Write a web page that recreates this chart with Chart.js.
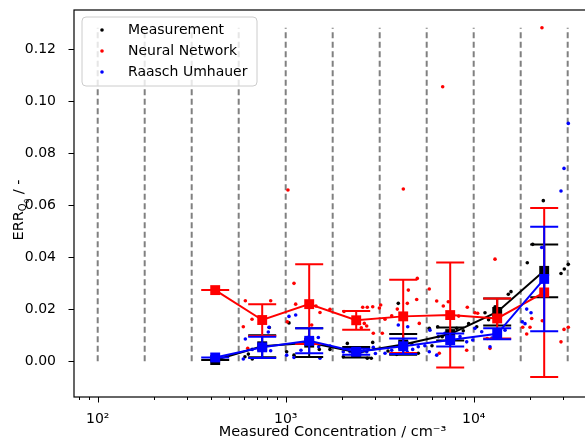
<!DOCTYPE html>
<html><head><meta charset="utf-8">
<script src="https://cdn.jsdelivr.net/npm/chart.js@4/dist/chart.umd.min.js"></script>
<style>
html,body{margin:0;padding:0;overflow:hidden;background:#fff;width:585px;height:440px}
#wrap{width:600px;height:440px;position:relative}
</style>
</head><body><div id="wrap"><canvas id="c" width="600" height="440"></canvas></div>
<script>
// ---- data ----
const binEdges = [100, 177.8, 316.2, 562.3, 1000, 1778, 3162, 5623, 10000, 17783, 31623];
const binCenters = [421.7, 749.9, 1333.5, 2371.4, 4217, 7499, 13335, 23714];

const measMean = [0.0005, 0.0058, 0.0072, 0.0035, 0.0065, 0.0105, 0.019, 0.0348];
const measErr  = [0, 0.0042, 0.0055, 0.002, 0.004, 0.0025, 0.0052, 0.0101];
const nnMean   = [0.0274, 0.0159, 0.022, 0.0158, 0.0173, 0.0178, 0.0165, 0.0265];
const nnErr    = [0, 0.0061, 0.0153, 0.0036, 0.0141, 0.0202, 0.0077, 0.0325];
const ruMean   = [0.0015, 0.0054, 0.0079, 0.0037, 0.0058, 0.0082, 0.0106, 0.0317];
const ruErr    = [0, 0.0041, 0.0048, 0.0012, 0.003, 0.0025, 0.0021, 0.0201];

const measX = [410, 818, 607, 664, 633, 1303, 1363, 1509, 1720, 1107, 1041, 1012, 2127, 2903, 2025, 2716, 2853, 2400, 2600, 3971, 3894, 5074, 4700, 4400, 3500, 5804, 6434, 8121, 7325, 6800, 8800, 9400, 7800, 6000, 15280, 15790, 11485, 10375, 13000, 12000, 19280, 29130, 30340, 31860, 23460, 20600];
const measY = [0.0005, 0.013, 0.0018, 0.0009, 0.0028, 0.0092, 0.0082, 0.0046, 0.0046, 0.0024, 0.0148, 0.0037, 0.0069, 0.0073, 0.0018, 0.0012, 0.0012, 0.0025, 0.004, 0.0223, 0.0027, 0.0031, 0.0065, 0.0075, 0.004, 0.0127, 0.0133, 0.0127, 0.0108, 0.0095, 0.0118, 0.0145, 0.0085, 0.006, 0.0258, 0.0268, 0.0187, 0.0133, 0.021, 0.016, 0.0379, 0.0338, 0.0355, 0.0373, 0.0618, 0.045];

const nnX = [410, 610, 832, 662, 595, 628, 1107, 1130, 1449, 1522, 1720, 1020, 1375, 1028, 2042, 2568, 2716, 2903, 2619, 2697, 2524, 2924, 3150, 3202, 4436, 5012, 4490, 4975, 3923, 5135, 3265, 3663, 3375, 4224, 5804, 6356, 6891, 7325, 9247, 8322, 6561, 9178, 6840, 10160, 10500, 12983, 12210, 11800, 20350, 19930, 18230, 19140, 23170, 30230, 31860, 29130, 23070];
const nnY = [0.027, 0.0233, 0.0233, 0.0162, 0.0133, 0.005, 0.030, 0.022, 0.0213, 0.0188, 0.020, 0.0152, 0.014, 0.0659, 0.0192, 0.0208, 0.0208, 0.021, 0.0146, 0.0136, 0.0129, 0.0108, 0.0205, 0.0217, 0.0223, 0.0319, 0.0274, 0.0238, 0.0201, 0.0146, 0.0108, 0.0175, 0.0162, 0.0663, 0.0278, 0.0232, 0.0213, 0.0229, 0.0208, 0.0174, 0.0031, 0.0043, 0.1056, 0.0187, 0.0185, 0.0393, 0.005, 0.0088, 0.0165, 0.0131, 0.0131, 0.0105, 0.0156, 0.0123, 0.0131, 0.0075, 0.1283];

const ruX = [410, 610, 815, 808, 595, 832, 664, 1041, 1130, 1491, 1012, 1720, 1206, 1498, 1107, 1522, 2025, 2198, 2537, 2697, 2924, 2400, 3000, 3971, 4457, 3663, 4436, 4737, 5074, 3375, 5500, 5854, 6481, 7036, 8456, 9879, 6356, 5804, 9178, 10160, 11030, 12210, 14675, 12500, 31860, 30230, 29130, 23000, 19140, 20180, 18140, 18750];
const ruY = [0.0015, 0.0086, 0.0131, 0.0113, 0.0009, 0.0041, 0.0046, 0.0173, 0.0178, 0.0092, 0.0024, 0.0059, 0.0043, 0.0056, 0.0015, 0.0012, 0.0037, 0.0037, 0.0037, 0.0037, 0.0054, 0.0028, 0.003, 0.014, 0.0133, 0.0043, 0.0036, 0.0046, 0.0056, 0.0031, 0.006, 0.012, 0.0095, 0.0108, 0.0095, 0.0082, 0.0024, 0.0037, 0.0075, 0.0127, 0.0114, 0.0056, 0.012, 0.009, 0.0915, 0.0742, 0.0655, 0.0438, 0.0201, 0.0187, 0.0152, 0.0145];

const yTicks = [0, 0.02, 0.04, 0.06, 0.08, 0.10, 0.12];
const xMajor = [100, 1000, 10000];
const xMinor = [80, 90, 200, 300, 400, 500, 600, 700, 800, 900, 2000, 3000, 4000, 5000, 6000, 7000, 8000, 9000, 20000, 30000, 40000];
const xTickLabels = {100: '10\u00B2', 1000: '10\u00B3', 10000: '10\u2074'};
const seriesNames = ['Measurement', 'Neural Network', 'Raasch Umhauer'];
const seriesColors = ['#000000', '#ff0000', '#0000ff'];

// ---- build ----
const pts = (xs, ys) => xs.map((x, i) => ({x: x, y: ys[i]}));
const vTop = Math.max(...measY, ...nnY, ...ruY);
const vlineData = [];
binEdges.forEach(e => { vlineData.push({x: e, y: 0}, {x: e, y: vTop}, {x: e, y: null}); });

const FONT = "'DejaVu Sans', sans-serif";
Chart.defaults.font.family = FONT;
Chart.defaults.font.size = 14;
Chart.defaults.color = '#000';

const errPlugin = {
  id: 'errbars',
  beforeDatasetDraw(chart, args) {
    const ds = chart.data.datasets[args.index];
    if (!ds.errors) return;
    const ctx = chart.ctx, xs = chart.scales.x, ys = chart.scales.y;
    ctx.save();
    ctx.strokeStyle = ds.borderColor;
    ctx.lineWidth = 2;
    ds.data.forEach((p, i) => {
      const e = ds.errors[i];
      const px = xs.getPixelForValue(p.x);
      const yHi = ys.getPixelForValue(p.y + e), yLo = ys.getPixelForValue(p.y - e);
      ctx.beginPath();
      ctx.moveTo(px, yLo); ctx.lineTo(px, yHi);
      ctx.moveTo(px - 14, yLo); ctx.lineTo(px + 14, yLo);
      ctx.moveTo(px - 14, yHi); ctx.lineTo(px + 14, yHi);
      ctx.stroke();
    });
    ctx.restore();
  }
};

const framePlugin = {
  id: 'frame',
  afterDraw(chart) {
    const ctx = chart.ctx, a = chart.chartArea, xs = chart.scales.x, ys = chart.scales.y;
    ctx.save();
    ctx.strokeStyle = '#000'; ctx.lineWidth = 1.2;
    ctx.strokeRect(a.left, a.top, a.right - a.left, a.bottom - a.top);
    ctx.lineWidth = 1;
    ctx.beginPath();
    xMajor.forEach(v => { const p = Math.round(xs.getPixelForValue(v)) + 0.5; ctx.moveTo(p, a.bottom); ctx.lineTo(p, a.bottom + 5.5); });
    xMinor.forEach(v => { const p = Math.round(xs.getPixelForValue(v)) + 0.5; ctx.moveTo(p, a.bottom); ctx.lineTo(p, a.bottom + 3); });
    yTicks.forEach(v => { const p = Math.round(ys.getPixelForValue(v)) + 0.5; ctx.moveTo(a.left, p); ctx.lineTo(a.left - 5.5, p); });
    ctx.stroke();

    // legend
    const lx = a.left + 8, ly = a.top + 7, lw = 175, lh = 69;
    ctx.beginPath();
    if (ctx.roundRect) ctx.roundRect(lx, ly, lw, lh, 4); else ctx.rect(lx, ly, lw, lh);
    ctx.fillStyle = 'rgba(255,255,255,0.8)';
    ctx.fill();
    ctx.strokeStyle = '#cccccc'; ctx.lineWidth = 1;
    ctx.stroke();
    ctx.font = '14px ' + FONT;
    ctx.textBaseline = 'middle';
    ctx.textAlign = 'left';
    seriesNames.forEach((n, i) => {
      const cy = ly + 13 + i * 21;
      ctx.fillStyle = seriesColors[i];
      ctx.beginPath(); ctx.arc(lx + 20, cy, 1.8, 0, Math.PI * 2); ctx.fill();
      ctx.fillStyle = '#000';
      ctx.fillText(n, lx + 46, cy);
    });

    // y axis title with subscript
    ctx.save();
    ctx.translate(23, 210);
    ctx.rotate(-Math.PI / 2);
    const parts = [['ERR', 14.5, 0], ['Q', 10, 3], ['0', 7, 6], [' / -', 14.5, 0]];
    let tw = 0;
    parts.forEach(p => { ctx.font = p[1] + 'px ' + FONT; tw += ctx.measureText(p[0]).width; });
    let cx = -tw / 2;
    ctx.textBaseline = 'alphabetic';
    ctx.fillStyle = '#000';
    parts.forEach(p => { ctx.font = p[1] + 'px ' + FONT; ctx.fillText(p[0], cx, p[2]); cx += ctx.measureText(p[0]).width; });
    ctx.restore();
    ctx.restore();
  }
};

const scatterDs = (label, xs, ys, color, order) => ({
  type: 'scatter', label, data: pts(xs, ys), order,
  backgroundColor: color, borderWidth: 0, pointRadius: 1.8, pointHoverRadius: 1.8, showLine: false
});
const meanDs = (label, mean, err, color, order) => ({
  type: 'line', label, data: binCenters.map((x, i) => ({x, y: mean[i]})), errors: err, order,
  borderColor: color, borderWidth: 2, backgroundColor: color,
  pointStyle: 'rect', pointRadius: 7, pointHoverRadius: 7, pointBorderWidth: 0,
  pointBackgroundColor: color, tension: 0, fill: false
});

new Chart(document.getElementById('c'), {
  data: {
    datasets: [
      {type: 'line', label: 'bins', data: vlineData, order: 10, borderColor: '#808080', borderWidth: 2,
       borderDash: [6, 3.5], pointRadius: 0, spanGaps: false, fill: false},
      scatterDs(seriesNames[0], measX, measY, seriesColors[0], 7),
      scatterDs(seriesNames[1], nnX, nnY, seriesColors[1], 6),
      scatterDs(seriesNames[2], ruX, ruY, seriesColors[2], 5),
      meanDs(seriesNames[0] + ' mean', measMean, measErr, '#000000', 2),
      meanDs(seriesNames[1] + ' mean', nnMean, nnErr, '#ff0000', 1),
      meanDs(seriesNames[2] + ' mean', ruMean, ruErr, '#0000ff', 0)
    ]
  },
  options: {
    responsive: false, animation: false, events: [],
    layout: {padding: {left: 0, right: 9, top: 10, bottom: 0}},
    plugins: {legend: {display: false}, tooltip: {enabled: false}},
    scales: {
      x: {
        type: 'logarithmic', min: 74.8, max: 42070,
        grid: {display: false}, border: {display: false},
        afterBuildTicks: s => { s.ticks = xMajor.concat(xMinor).sort((a, b) => a - b).map(v => ({value: v})); },
        afterFit: s => { s.height = 43; s.paddingLeft = 0; s.paddingRight = 0; },
        ticks: {autoSkip: false, maxRotation: 0, padding: 6, font: {size: 14},
                callback: v => xTickLabels[v] || ''},
        title: {display: true, text: 'Measured Concentration / cm\u207B\u00B3', font: {size: 14.5}, padding: {top: 0, bottom: -1}}
      },
      y: {
        type: 'linear', min: -0.0137, max: 0.1351,
        grid: {display: false}, border: {display: false},
        afterBuildTicks: s => { s.ticks = yTicks.map(v => ({value: v})); },
        afterFit: s => { s.width = 74; s.paddingTop = 0; s.paddingBottom = 0; },
        ticks: {padding: 10, font: {size: 14}, callback: v => v.toFixed(2)}
      }
    }
  },
  plugins: [errPlugin, framePlugin]
});
</script>
</body></html>
